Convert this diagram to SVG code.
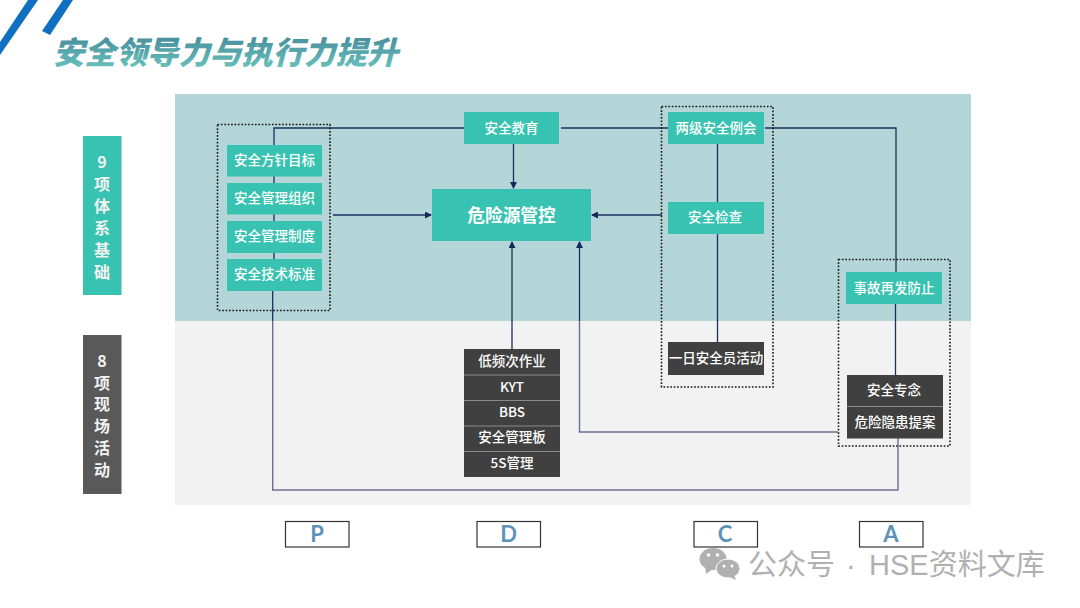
<svg xmlns="http://www.w3.org/2000/svg" width="1080" height="608" viewBox="0 0 1080 608">
<style>
text{font-family:"Noto Sans CJK SC","Liberation Sans",sans-serif;text-anchor:middle;dominant-baseline:central}
.t{fill:#38c2b1}.d{fill:#404040}
.l{fill:#fff;font-size:13.500px;font-weight:500}
.c{fill:none;stroke:#1a3060;stroke-width:1.300}
.g{fill:none;stroke:#6f6f96;stroke-width:1.400}
.dot{fill:none;stroke:#1a1a1a;stroke-width:1.600;stroke-dasharray:1.700 1.700}
.sep{stroke:#8a8a8a;stroke-width:1}
.pb{fill:#fff;stroke:#333;stroke-width:1.200}
.pt{fill:#5b93b8;font-size:22px;font-weight:700;font-family:"Lato","Liberation Sans",sans-serif}
.v{fill:#f2f2f2;font-size:16px;font-weight:700}
</style>
<defs>
<marker id="a" markerWidth="7" markerHeight="7" refX="6" refY="3.500" orient="auto" markerUnits="userSpaceOnUse"><path d="M0 0L7 3.500L0 7z" fill="#14285a"/></marker>
<linearGradient id="tg" x1="0" y1="0" x2="0" y2="1"><stop offset="0" stop-color="#3f7f94"/><stop offset="1" stop-color="#6cc8c0"/></linearGradient>
</defs>
<rect width="1080" height="608" fill="#fff"/>
<polygon points="28,0 38,0 0,55 0,42" fill="#0f6fc0"/>
<polygon points="63,0 73,0 50,35 42,31" fill="#0f6fc0"/>
<g id="title"><text transform="translate(229 50) skewX(-14)" style="font-size:31.400px;font-weight:900" fill="url(#tg)">安全领导力与执行力提升</text></g>
<rect x="175" y="94" width="796" height="227" fill="#b5d6d8"/>
<rect x="175" y="321" width="796" height="184" fill="#f2f2f2"/>
<g id="connectors">
<path class="c" d="M464 128H274V145M274 176V183M274 214V221M274 253V259"/>
<path class="c" d="M561 128H668"/>
<path class="c" d="M765 128H896V272"/>
<path class="c" d="M513.500 144V188" marker-end="url(#a)"/>
<path class="c" d="M333 215H431" marker-end="url(#a)"/>
<path class="c" d="M662 215H592" marker-end="url(#a)"/>
<path class="c" d="M717.500 144V202M717.500 234V342"/>
<path class="c" d="M895.500 304V375"/>
<path class="c" d="M512 349V242" marker-end="url(#a)"/>
<path class="g" d="M838 432H579.500V321"/>
<path class="c" d="M579.500 321V242" marker-end="url(#a)"/>
<path class="c" d="M272.700 291V321"/>
<path class="g" d="M272.700 321V490H898V438"/>
</g>
<g id="group-plan"><rect class="dot" x="217.500" y="124.500" width="112.500" height="186"/></g>
<g id="group-check"><rect class="dot" x="661.500" y="106.500" width="111.500" height="280.500"/></g>
<g id="group-act"><rect class="dot" x="838.500" y="259.500" width="111.500" height="186.500"/></g>
<g id="label-9"><rect class="t" x="83" y="136" width="38.500" height="159"/>
<text class="v" x="102" y="161">9<tspan x="102" dy="22">项</tspan><tspan x="102" dy="22">体</tspan><tspan x="102" dy="22">系</tspan><tspan x="102" dy="22">基</tspan><tspan x="102" dy="22">础</tspan></text></g>
<g id="label-8"><rect x="83" y="335" width="38.500" height="159" fill="#595959"/>
<text class="v" x="102" y="360">8<tspan x="102" dy="21.700">项</tspan><tspan x="102" dy="21.700">现</tspan><tspan x="102" dy="21.700">场</tspan><tspan x="102" dy="21.700">活</tspan><tspan x="102" dy="21.700">动</tspan></text></g>
<g id="n-policy"><rect class="t" x="227" y="145" width="95" height="31.500"/><text class="l" x="274.500" y="159">安全方针目标</text></g>
<g id="n-org"><rect class="t" x="227" y="183" width="95" height="31.500"/><text class="l" x="274.500" y="197">安全管理组织</text></g>
<g id="n-rule"><rect class="t" x="227" y="221" width="95" height="32"/><text class="l" x="274.500" y="235">安全管理制度</text></g>
<g id="n-std"><rect class="t" x="227" y="259" width="95" height="32"/><text class="l" x="274.500" y="273">安全技术标准</text></g>
<g id="n-edu"><rect class="t" x="464" y="112" width="95" height="32"/><text class="l" x="511.500" y="127">安全教育</text></g>
<g id="n-hazard"><rect class="t" x="432" y="189" width="159" height="52"/><text x="511.500" y="213.500" fill="#fff" style="font-size:17.700px;font-weight:700">危险源管控</text></g>
<g id="n-meeting"><rect class="t" x="668" y="112" width="96" height="32"/><text class="l" x="716" y="127">两级安全例会</text></g>
<g id="n-inspect"><rect class="t" x="668" y="202" width="96" height="32"/><text class="l" x="715" y="216">安全检查</text></g>
<g id="n-oneday"><rect class="d" x="668" y="342" width="96" height="33"/><text class="l" x="716" y="357">一日安全员活动</text></g>
<g id="n-recur"><rect class="t" x="846" y="272" width="96" height="32"/><text class="l" x="894" y="287">事故再发防止</text></g>
<g id="n-act"><rect class="d" x="847" y="375" width="96" height="63.500"/><line class="sep" x1="847" y1="406.500" x2="943" y2="406.500"/><text class="l" x="894" y="389">安全专念</text><text class="l" x="895" y="421">危险隐患提案</text></g>
<g id="n-do"><rect class="d" x="464" y="349" width="96" height="128"/>
<line class="sep" x1="464" y1="375" x2="560" y2="375"/><line class="sep" x1="464" y1="400.500" x2="560" y2="400.500"/><line class="sep" x1="464" y1="426" x2="560" y2="426"/><line class="sep" x1="464" y1="451.500" x2="560" y2="451.500"/>
<text class="l" x="512" y="360">低频次作业</text><text class="l" x="512" y="386">KYT</text><text class="l" x="512" y="411">BBS</text><text class="l" x="512" y="436">安全管理板</text><text class="l" x="512" y="462">5S管理</text></g>
<g id="pdca-p"><rect class="pb" x="285.500" y="521.500" width="63.500" height="25.500"/><text class="pt" x="317" y="533">P</text></g>
<g id="pdca-d"><rect class="pb" x="477" y="521.500" width="63.500" height="25.500"/><text class="pt" x="508.500" y="533">D</text></g>
<g id="pdca-c"><rect class="pb" x="694" y="521.500" width="63.500" height="25.500"/><text class="pt" x="725" y="533">C</text></g>
<g id="pdca-a"><rect class="pb" x="859.500" y="521.500" width="63.500" height="25.500"/><text class="pt" x="891" y="533">A</text></g>
<g id="watermark" fill="#b0b0b0">
<ellipse cx="713" cy="559" rx="13.500" ry="11"/><path d="M705 566l1 8 7-5z"/>
<ellipse cx="728" cy="568.500" rx="12" ry="9.500" stroke="#fff" stroke-width="1"/><path d="M734 575l2 5-7-3z"/>
<circle cx="708.500" cy="555" r="1.800" fill="#fff"/><circle cx="717.500" cy="555" r="1.800" fill="#fff"/><circle cx="724" cy="566" r="1.500" fill="#fff"/><circle cx="732" cy="566" r="1.500" fill="#fff"/>
<text y="565" style="font-size:29px;text-anchor:start;font-family:'Liberation Sans','Noto Sans CJK SC',sans-serif"><tspan x="748">公众号</tspan><tspan x="846">·</tspan><tspan x="869">HSE资料文库</tspan></text>
</g>
</svg>
